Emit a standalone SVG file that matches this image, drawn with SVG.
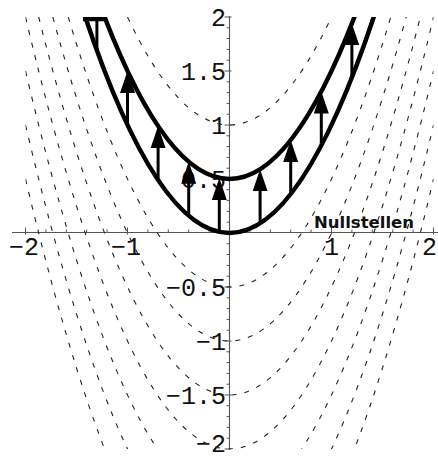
<svg xmlns="http://www.w3.org/2000/svg" width="438" height="460" viewBox="0 0 438 460">
<style>
.ax{stroke:#555;stroke-width:1.1;fill:none}
.tk{stroke:#555;stroke-width:1;fill:none}
.lab{font-family:"Liberation Mono","DejaVu Sans Mono",monospace;font-size:25px;fill:#111}
.dash{stroke:#222;stroke-width:1.1;fill:none;stroke-dasharray:5 8}
.solid{stroke:#000;stroke-width:4.5;fill:none}
.arr{stroke:#000;stroke-width:3;fill:none;marker-end:url(#ah)}
.title{font-family:"DejaVu Sans",sans-serif;font-weight:bold;font-size:16.5px;fill:#111}
</style>
<defs>
<clipPath id="plot"><rect x="25.5" y="17" width="408" height="432"/></clipPath>
<marker id="ah" markerUnits="userSpaceOnUse" orient="auto" viewBox="0 -8 24 16" markerWidth="24" markerHeight="16" refX="10" refY="0">
<path d="M0,-7.5 L22,0 L0,7.5 Z" fill="#000"/>
</marker>
</defs>
<rect width="438" height="460" fill="#fff"/>
<g id="axes">
<path class="ax" d="M12,232.5 H438 M229.5,16 V450"/>
<path class="tk" d="M226.5,27.8h3M226.5,38.6h3M226.5,49.4h3M226.5,60.2h3M226.5,81.8h3M226.5,92.6h3M226.5,103.4h3M226.5,114.2h3M226.5,135.8h3M226.5,146.6h3M226.5,157.4h3M226.5,168.2h3M226.5,189.8h3M226.5,200.6h3M226.5,211.4h3M226.5,222.2h3M226.5,243.8h3M226.5,254.6h3M226.5,265.4h3M226.5,276.2h3M226.5,297.8h3M226.5,308.6h3M226.5,319.4h3M226.5,330.2h3M226.5,351.8h3M226.5,362.6h3M226.5,373.4h3M226.5,384.2h3M226.5,405.8h3M226.5,416.6h3M226.5,427.4h3M226.5,438.2h3"/>
<path class="tk" d="M224.5,17h7M224.5,71h7M224.5,125h7M224.5,179h7M224.5,287h7M224.5,341h7M224.5,395h7M224.5,449h7"/>
<path class="tk" d="M45.9,232.5v-3M66.3,232.5v-3M86.7,232.5v-3M107.1,232.5v-3M147.9,232.5v-3M168.3,232.5v-3M188.7,232.5v-3M209.1,232.5v-3M249.9,232.5v-3M270.3,232.5v-3M290.7,232.5v-3M311.1,232.5v-3M351.9,232.5v-3M372.3,232.5v-3M392.7,232.5v-3M413.1,232.5v-3"/>
<path class="tk" d="M25.5,234.5v-7M127.5,234.5v-7M331.5,234.5v-7M433.5,234.5v-7"/>
</g>
<g id="labels">
<text class="lab" x="226" y="26" text-anchor="end">2</text>
<text class="lab" x="226" y="80" text-anchor="end">1.5</text>
<text class="lab" x="226" y="134" text-anchor="end">1</text>
<text class="lab" x="226" y="188" text-anchor="end">0.5</text>
<text class="lab" x="226" y="296" text-anchor="end">−0.5</text>
<text class="lab" x="226" y="350" text-anchor="end">−1</text>
<text class="lab" x="226" y="404" text-anchor="end">−1.5</text>
<text class="lab" x="226" y="452" text-anchor="end">−2</text>
<text class="lab" x="24" y="255" text-anchor="middle">−2</text>
<text class="lab" x="126" y="255" text-anchor="middle">−1</text>
<text class="lab" x="331.5" y="255" text-anchor="middle">1</text>
<text class="lab" x="437" y="255" text-anchor="end">2</text>
</g>
<g id="connectors" clip-path="url(#plot)">
<g id="family">
<path class="dash" d="M127.5,17 Q229.5,233 331.5,17"/>
<path class="dash" d="M68.23,17 Q229.5,557 390.77,17"/>
<path class="dash" d="M52.83,17 Q229.5,665 406.17,17"/>
<path class="dash" d="M38.68,17 Q229.5,773 420.32,17"/>
<path class="dash" d="M25.5,17 Q229.5,881 433.5,17"/>
<path class="dash" d="M25.5,71 Q229.5,935 433.5,71"/>
<path class="dash" d="M25.5,125 Q229.5,989 433.5,125"/>
<path class="dash" d="M25.5,179 Q229.5,1043 433.5,179"/>
</g>
<g id="bounds">
<path class="solid" d="M81.6,5.93 Q229.5,460.07 377.4,5.93"/>
<path class="solid" d="M96.9,-3.52 Q229.5,361.52 362.1,-3.52"/>
<path class="solid" d="M83,19 H107"/>
</g>
<g id="arrows">
<path class="arr" d="M96.9,50.48 V8.48"/>
<path class="arr" d="M127.5,125 V83"/>
<path class="arr" d="M158.1,180.08 V138.08"/>
<path class="arr" d="M188.7,215.72 V173.72"/>
<path class="arr" d="M219.3,231.92 V189.92"/>
<path class="arr" d="M260.1,223.28 V181.28"/>
<path class="arr" d="M290.7,194.12 V152.12"/>
<path class="arr" d="M321.3,145.52 V103.52"/>
<path class="arr" d="M351.9,77.48 V35.48"/>
</g>
</g>
<g id="caption">
<text class="title" x="314" y="228">Nullstellen</text>
</g>
</svg>
